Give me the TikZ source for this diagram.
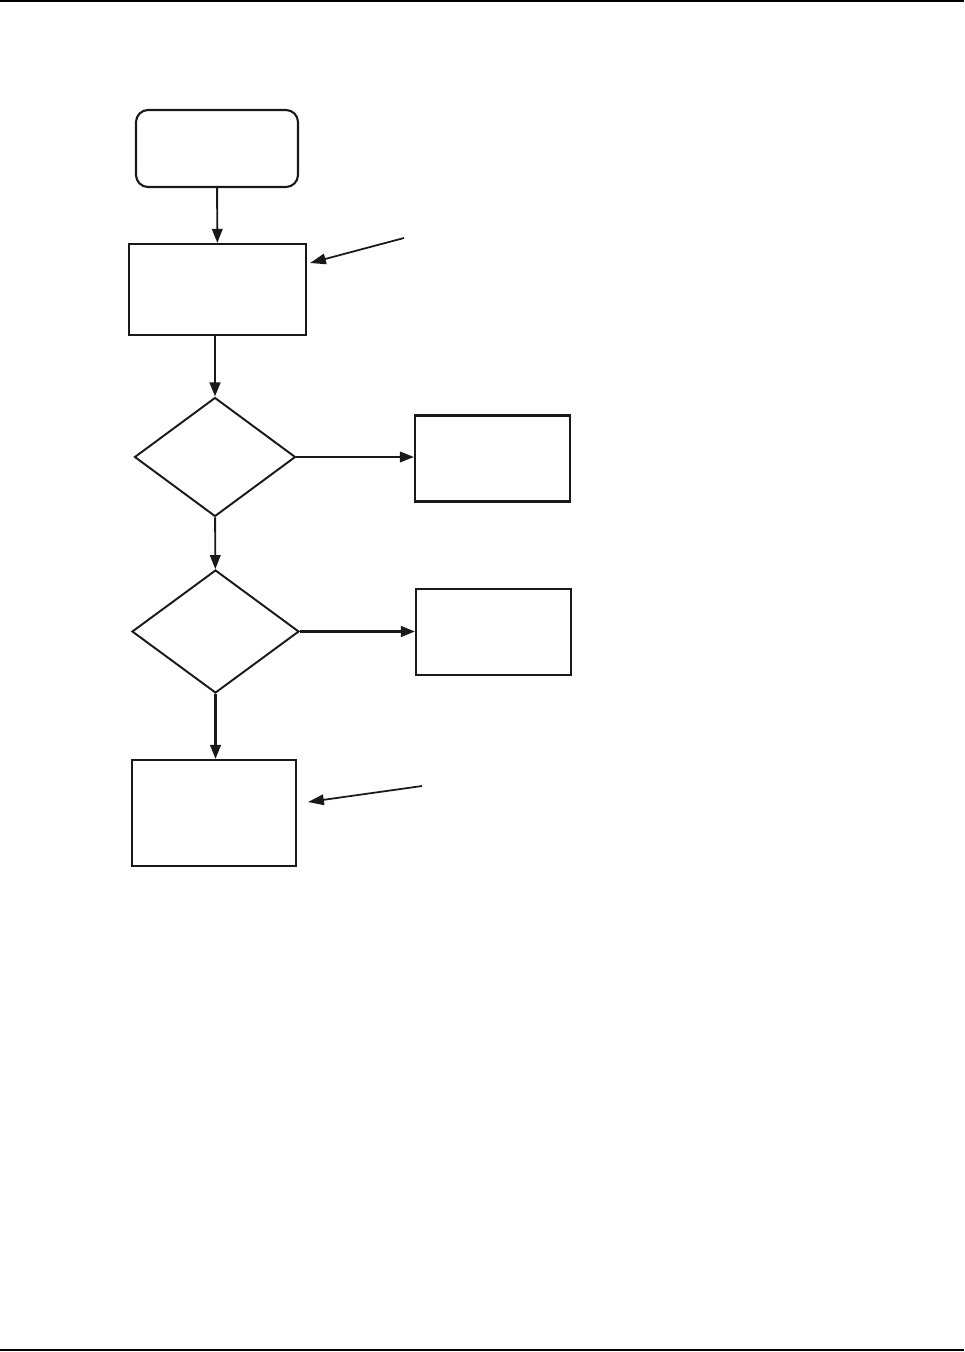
\documentclass[tikz,border=0pt]{standalone}
\usepackage{xcolor}
\usepackage{tikz}
\usetikzlibrary{arrows.meta,shapes.geometric}

\begin{document}
\begin{tikzpicture}[
    x=0.02cm, y=-0.02cm,
    startbox/.style={rectangle, rounded corners=0.24cm, draw=black!90, line width=1.2pt, minimum width=3.24cm, minimum height=1.54cm, inner sep=0pt},
    procbox/.style={rectangle, draw=black!90, line width=1.2pt, inner sep=0pt},
    decision/.style={diamond, draw=black!90, line width=1.1pt, inner sep=0pt},
    flow/.style={-{Triangle[length=8pt,width=6pt]}, draw=black!90, line width=1.1pt},
    boldflow/.style={flow, line width=1.5pt},
    pointer/.style={-{Triangle[length=9pt,width=6pt]}, draw=black!90, line width=1pt}
]
    \useasboundingbox (0,0) rectangle (964,1352);
    % Page rules
    \coordinate (rtl) at (0,1);
    \coordinate (rtr) at (964,1);
    \coordinate (rbl) at (0,1350);
    \coordinate (rbr) at (964,1350);
    \draw[line width=1.5pt] (rtl) -- (rtr);
    \draw[line width=1.2pt] (rbl) -- (rbr);

    % Nodes
    \node[startbox] (start) at (217,148.5) {};
    \node[procbox, minimum width=3.54cm, minimum height=1.82cm] (prep) at (217.5,289.5) {};
    \node[decision, minimum width=3.22cm, minimum height=2.38cm] (checka) at (215,457) {};
    \node[procbox, minimum width=3.1cm, minimum height=1.72cm] (sidea) at (492.5,458.5) {};
    \node[decision, minimum width=3.34cm, minimum height=2.46cm] (checkb) at (215.5,631.5) {};
    \node[procbox, minimum width=3.1cm, minimum height=1.72cm] (sideb) at (493.5,632) {};
    \node[procbox, minimum width=3.28cm, minimum height=2.12cm] (finish) at (214,813) {};

    % Flow
    \draw[flow] (start) -- (prep);
    \draw[boldflow] (checka |- prep.south) -- (checka);
    \draw[flow] (checka.east) -- (checka.east -| sidea.west);
    \draw[flow] (checka) -- (checkb);
    \draw[boldflow] (checkb.east) -- (checkb.east -| sideb.west);
    \draw[boldflow] (checkb.south) -- (checkb.south |- finish.north);

    % Pointers
    \coordinate (pa) at (404,238);
    \coordinate (pb) at (422,786);
    \draw[pointer] (pa) -- ([xshift=0.06cm,yshift=0.53cm]prep.east);
    \draw[pointer] (pb) -- ([xshift=0.22cm,yshift=0.22cm]finish.east);
\end{tikzpicture}
\end{document}
